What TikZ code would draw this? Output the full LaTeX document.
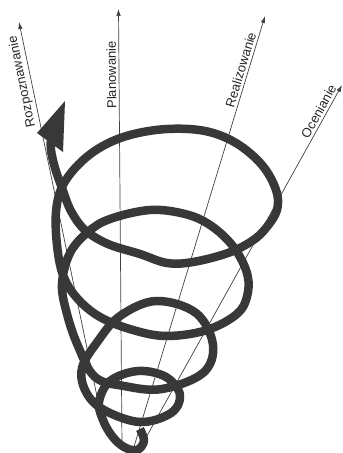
\documentclass[tikz,border=0pt]{standalone}
\usepackage{fontspec}
\setmainfont{Liberation Sans}
\usetikzlibrary{arrows.meta}

\begin{document}
\begin{tikzpicture}[
    x=1pt, y=-1pt,
    axisline/.style={-{Latex[length=7pt,width=4.5pt]}, line width=0.7pt, draw=black!75},
    axislabel/.style={sloped, allow upside down, above, inner sep=2.5pt,
                      font=\fontsize{13}{15}\selectfont, text=black!85},
    spiral/.style={line width=8.5pt, draw=black!78, line join=round}
]
\useasboundingbox (0,0) rectangle (343,453);

% axes
\coordinate (rozBase) at (103,425);
\coordinate (rozTip) at (19,22);
\coordinate (planBase) at (122,446);
\coordinate (planTip) at (118.5,9);
\coordinate (realBase) at (133,450);
\coordinate (realTip) at (265,16);
\coordinate (ocenBase) at (143,443);
\coordinate (ocenTip) at (342,85);

\draw[axisline] (rozBase) -- node[axislabel, pos=.856] (lblRoz) {Rozpoznawanie} (rozTip);
\draw[axisline] (planBase) -- node[axislabel, pos=.849] (lblPlan) {Planowanie} (planTip);
\draw[axisline] (realBase) -- node[axislabel, pos=.871] (lblReal) {Realizowanie} (realTip);
\draw[axisline] (ocenBase) -- node[axislabel, pos=.916] (lblOcen) {Ocenianie} (ocenTip);

% spiral, from the bottom hook upwards
\draw[spiral] plot[smooth, tension=0.6] coordinates {
    (140,429) (144,441) (137,450) (124,447) (112,436) (103,420) (99,402)
    (110,381) (138,371) (166,377) (180,395) (171,413) (140,422)
    (104,410) (86,392) (82,368) (98,341) (120,316) (156,301)
    (196,313) (213,345) (203,373) (162,389) (124,386) (95,377)
    (78,346) (67,314) (62,284) (70,253) (88,232) (110,219) (150,210)
    (185,214) (210,225) (232,245) (246,270) (248,292) (238,313)
    (207,330) (167,336) (133,330) (100,317) (77,298) (63,275)
    (57,245) (56,212) (62,187) (78,165) (101,147) (130,135) (167,129)
    (205,131) (236,143) (262,165) (276,190) (277,210) (266,228)
    (252,241) (228,253) (193,262) (167,263) (140,254) (108,244)
    (85,230) (71,211) (62,188) (55,168) (51,150) (51,138)};

% arrow head
\coordinate (headTip) at (65,101);
\coordinate (headLeft) at (37,133);
\coordinate (headRight) at (63,152);
\fill[black!78] (headTip) -- (headLeft) -- (headRight) -- cycle;

\end{tikzpicture}
\end{document}
